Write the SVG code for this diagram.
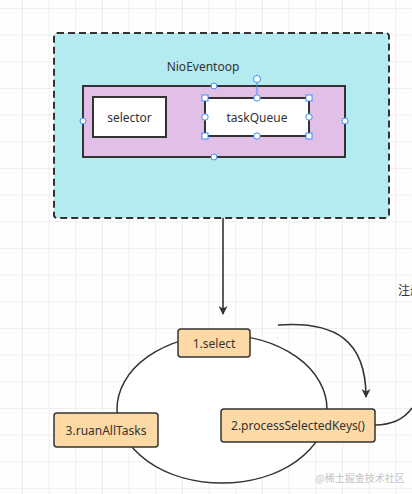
<svg xmlns="http://www.w3.org/2000/svg" width="412" height="494" viewBox="0 0 412 494">
<defs>
<pattern id="minor" x="22" y="8" width="5.333" height="5.333" patternUnits="userSpaceOnUse">
<path d="M5.333 0V5.333M0 5.333H5.333" fill="none" stroke="#f4f4f4" stroke-width="0.6"/>
</pattern>
<pattern id="major" x="22" y="8" width="26.667" height="26.667" patternUnits="userSpaceOnUse">
<path d="M0 0V26.667M0 0H26.667" fill="none" stroke="#e2e2e2" stroke-width="1"/>
</pattern>
<marker id="arr" viewBox="0 0 10 10" refX="9" refY="5" markerWidth="11" markerHeight="9" markerUnits="userSpaceOnUse" orient="auto">
<path d="M0 0L10 5L0 10L3 5Z" fill="#333"/>
</marker>
<style>
.t{font-family:"Noto Sans","Noto Sans CJK SC",sans-serif;font-size:12px;fill:#333;text-anchor:middle;dominant-baseline:central}
.step{fill:#fdd9a6;stroke:#333;stroke-width:1.5}
.inner{fill:#fff;stroke:#333;stroke-width:2}
.hc{fill:#fff;stroke:#3d8ff5;stroke-width:1}
.hs{fill:#fff;stroke:#3d8ff5;stroke-width:1}
.line{fill:none;stroke:#333;stroke-width:1.6}
</style>
</defs>
<rect width="412" height="494" fill="#fff"/>
<rect width="412" height="494" fill="url(#minor)"/>
<rect width="412" height="494" fill="url(#major)"/>

<g id="ellipse">
<ellipse cx="222" cy="409" rx="105" ry="74" fill="#fff" stroke="#333" stroke-width="1.5"/>
</g>

<g id="connectors">
<path class="line" d="M223 218V314" marker-end="url(#arr)"/>
<path class="line" d="M278 325C335 321 366 340 366 397" marker-end="url(#arr)"/>
<path class="line" d="M375 425C394 425 405 418 412 408"/>
</g>

<g id="nioeventloop">
<rect x="54" y="33" width="335" height="185" rx="3" fill="#b3ebf0" stroke="#333" stroke-width="2" stroke-dasharray="7 4"/>
<text class="t" x="203" y="66">NioEventoop</text>
</g>

<g id="container">
<rect x="83" y="86" width="262" height="71" fill="#e1bfe6" stroke="#333" stroke-width="2"/>
<circle class="hc" cx="214" cy="86" r="3"/>
<circle class="hc" cx="214" cy="157" r="3"/>
<circle class="hc" cx="83" cy="121" r="3"/>
<circle class="hc" cx="345" cy="121" r="3"/>
</g>

<g id="selector">
<rect class="inner" x="93" y="97" width="73" height="40"/>
<text class="t" x="129.5" y="117">selector</text>
</g>

<g id="taskQueue">
<rect class="inner" x="205" y="98" width="104" height="38"/>
<text class="t" x="257" y="117">taskQueue</text>
<path d="M257 81V98" stroke="#3d8ff5" stroke-width="1"/>
<circle class="hc" cx="257" cy="79" r="3.5"/>
<rect class="hs" x="202" y="95" width="6" height="6"/>
<rect class="hs" x="306" y="95" width="6" height="6"/>
<rect class="hs" x="202" y="133" width="6" height="6"/>
<rect class="hs" x="306" y="133" width="6" height="6"/>
<circle class="hc" cx="257" cy="98" r="3.2"/>
<circle class="hc" cx="257" cy="136" r="3.2"/>
<circle class="hc" cx="205" cy="117" r="3.2"/>
<circle class="hc" cx="309" cy="117" r="3.2"/>
</g>

<g id="select">
<rect class="step" x="178" y="329" width="72" height="28" rx="3"/>
<text class="t" x="214" y="343">1.select</text>
</g>

<g id="processSelectedKeys">
<rect class="step" x="221" y="409" width="154" height="33" rx="3"/>
<text class="t" x="298" y="425.5">2.processSelectedKeys()</text>
</g>

<g id="runAllTasks">
<rect class="step" x="54" y="413" width="104" height="34" rx="3"/>
<text class="t" x="106" y="430">3.ruanAllTasks</text>
</g>

<g id="note">
<text x="398" y="289" font-family="'Noto Sans CJK SC',sans-serif" font-size="12" fill="#333" dominant-baseline="central">注册</text>
</g>

<g id="watermark">
<text x="360" y="477" font-family="'Noto Sans CJK SC',sans-serif" font-size="10" fill="#c4c4c4" text-anchor="middle" dominant-baseline="central">@稀土掘金技术社区</text>
</g>
</svg>
